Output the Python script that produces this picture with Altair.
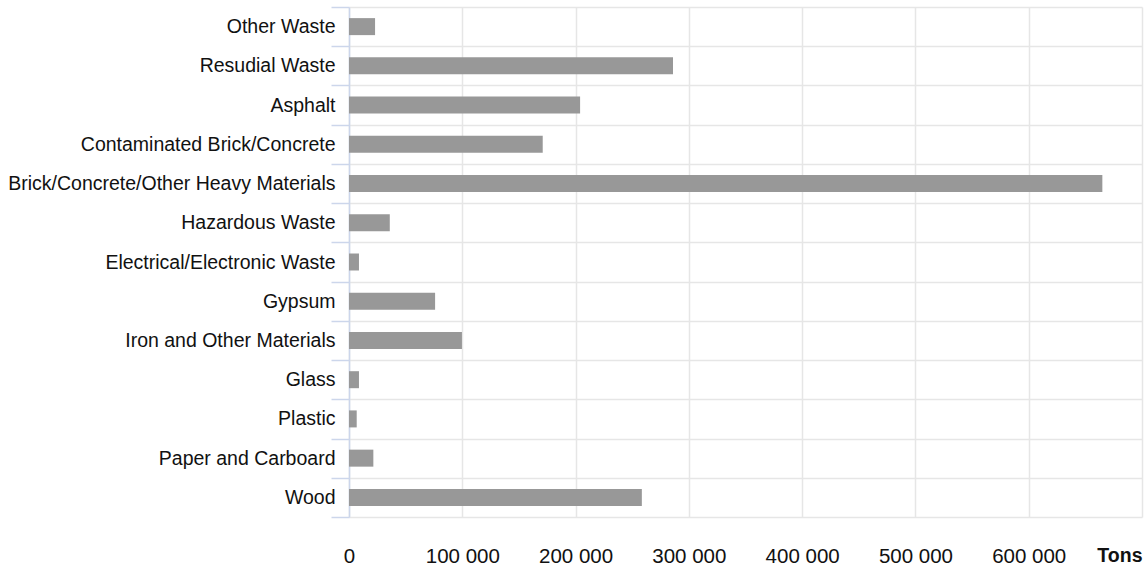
import altair as alt
import pandas as pd

categories = [
    "Other Waste", "Resudial Waste", "Asphalt", "Contaminated Brick/Concrete",
    "Brick/Concrete/Other Heavy Materials", "Hazardous Waste",
    "Electrical/Electronic Waste", "Gypsum", "Iron and Other Materials",
    "Glass", "Plastic", "Paper and Carboard", "Wood",
]
tons = [23000, 286000, 204000, 171000, 665000, 36000, 8800, 76000, 99700,
        8800, 6800, 21500, 258500]
x_ticks = [0, 100000, 200000, 300000, 400000, 500000, 600000, 700000]

df = pd.DataFrame({"category": categories, "tons": tons})

FONT = "Liberation Sans"

chart = alt.Chart(df).mark_bar(size=17, color="#989898").encode(
    x=alt.X(
        "tons:Q",
        scale=alt.Scale(domain=[0, 700000], nice=False),
        axis=alt.Axis(
            values=x_ticks,
            title=None,
            domain=False,
            ticks=False,
            grid=True,
            gridColor="#e6e6e6",
            gridWidth=1.5,
            labelPadding=29,
            labelFontSize={"condition": {"test": "datum.value == 700000", "value": 19.5}, "value": 20.5},
            labelFont=FONT,
            labelColor="#111111",
            labelExpr="datum.value == 700000 ? 'Tons' : (datum.value == 0 ? '0' : format(datum.value / 1000, 'd') + ' 000')",
            labelFontWeight={"condition": {"test": "datum.value == 700000", "value": "bold"}, "value": "normal"},
            labelAlign={"condition": {"test": "datum.value == 700000", "value": "right"}, "value": "center"},
        ),
    ),
    y=alt.Y(
        "category:N",
        sort=categories,
        scale=alt.Scale(paddingInner=0, paddingOuter=0),
        axis=alt.Axis(
            title=None,
            tickBand="extent",
            grid=True,
            gridColor="#e6e6e6",
            gridWidth=1.5,
            domain=True,
            domainColor="#ccd6eb",
            domainWidth=1.5,
            ticks=True,
            tickColor="#ccd6eb",
            tickSize=18,
            tickWidth=1.5,
            labelPadding=-4,
            labelFontSize=19.5,
            labelFont=FONT,
            labelColor="#111111",
            labelLimit=400,
        ),
    ),
).properties(
    width=793,
    height=510,
    autosize="none",
    padding={"left": 349, "top": 7, "right": 6, "bottom": 49},
).configure_view(stroke=None)

chart.save("out.html", embed_options={"renderer": "svg", "actions": False})
